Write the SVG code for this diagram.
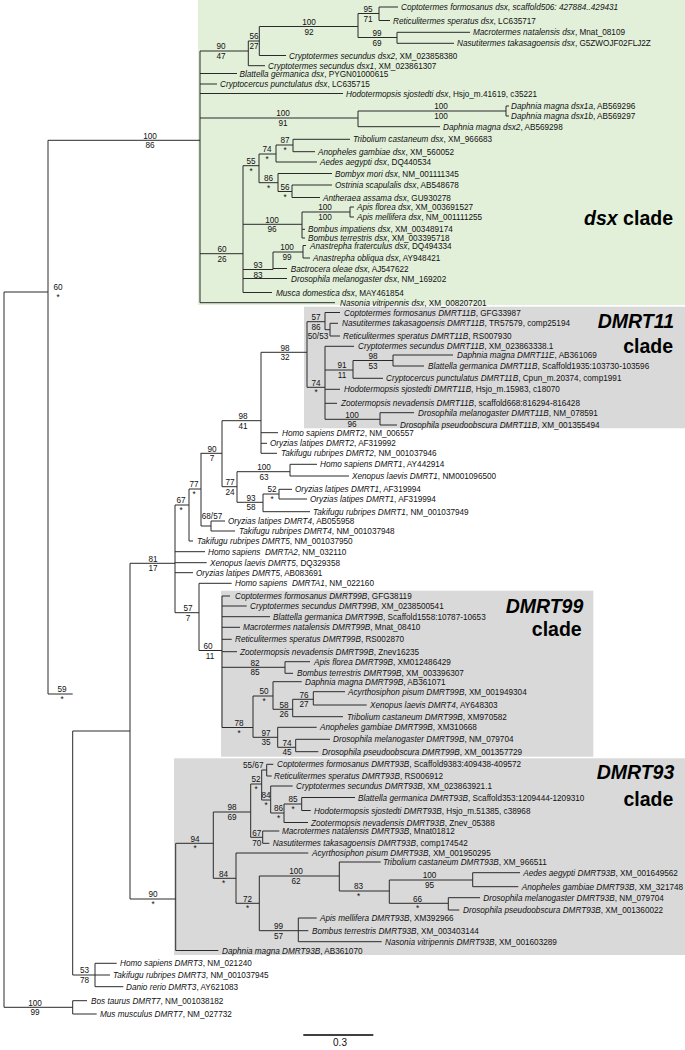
<svg xmlns="http://www.w3.org/2000/svg" width="685" height="1050" viewBox="0 0 685 1050">
<style>
text{font-family:"Liberation Sans",Arial,Helvetica,sans-serif;font-size:8.2px;fill:#111}
.i{font-style:italic}
.s{text-anchor:middle}
.b{fill:none;stroke:#2a2a2a;stroke-width:1}
.cl{font-size:19.5px;font-weight:bold;text-anchor:end;fill:#000}
</style>
<rect id="box-dsx" x="198" y="0" width="487" height="305" fill="#e2efd9"/>
<rect id="box-dmrt11" x="304" y="306.7" width="381" height="121.6" fill="#d9d9d9"/>
<rect id="box-dmrt99" x="221" y="590.7" width="372.3" height="166" fill="#d9d9d9"/>
<rect id="box-dmrt93" x="174" y="758.3" width="511" height="196.7" fill="#d9d9d9"/>
<g id="clade-labels">
<text class="cl" x="673" y="225"><tspan class="i">dsx</tspan> clade</text>
<text class="cl i" x="674" y="328.3">DMRT11</text>
<text class="cl" x="673" y="352.7">clade</text>
<text class="cl i" x="583.3" y="612.7">DMRT99</text>
<text class="cl" x="581.7" y="635.7">clade</text>
<text class="cl i" x="674.3" y="779.3">DMRT93</text>
<text class="cl" x="673.3" y="805.7">clade</text>
</g>
<g id="connectors" class="b">
<path d="M4 292V1007.3M4 292H48M48 140.3V694M48 140.3H200M48 694H72.7M72.7 731V975M72.7 731H130M130 563.3V899M4 1007.3H72.7"/>
<path d="M200 51V302.7M200 51H248.3M248.3 41V65.7M248.3 41H259.3M259.3 26.5V55.5M259.3 26.5H358M358 13.5V37.5M358 13.5H379M379 7V20.5M379 7H398M379 20.5H390M358 37.5H397M397 32.3V43.3M397 32.3H470M397 43.3H454M259.3 55.5H286M248.3 65.7H265"/>
<path d="M200 73.5H237M200 84H217M200 93.5H343M200 118H358M358 111V126.7M358 111H506M506 106V116M506 106H509M506 116H509M358 126.7H440M200 302.7H335"/>
<path d="M200 253.7H243M243 165.7V292.5M243 165.7H259M259 154V182.7M259 154H276M276 145V162M276 145H293M293 139.3V151.7M293 139.3H350M293 151.7H315M276 162H317M259 182.7H278M278 173.5V191.5M278 173.5H332M278 191.5H292M292 185V197.5M292 185H332M292 197.5H320"/>
<path d="M243 224.3H302M302 212V238M302 212H350M350 207V217M350 207H354M350 217H354M302 229.3H305M302 238H305M243 269.5H273M273 252V269.5M273 252H303M303 245.5V258M303 245.5H306M303 258H310M273 268.5H287M243 278.5H287M243 292.5H272"/>
<path d="M222 420.7H261M261 352.3V453.3M261 352.3H307M307 321.7V387.3M307 321.7H325M325 312.5V329.7M325 312.5H340M325 329.7H330M330 323.3V336M330 323.3H338M330 336H340M307 387.3H325M325 346.3V419.3M325 346.3H354M325 370H353M353 360.5V378.3M353 360.5H393M393 355V366M393 355H453M393 366H424M353 378.3H383M325 389.3H340M325 403.3H337M325 419.3H380M380 412.7V425M380 412.7H414M380 425H397"/>
<path d="M261 432.7H278M261 443.3H267M261 453.3H277M200.7 453.3H222M222 420.7V486.7M222 486.7H237M237 471.7V502.3M237 471.7H290M290 464.3V476M290 464.3H317M290 476H349M237 502.3H263M263 494V511.7M263 494H279M279 489.3V499M279 489.3H292M279 499H307M263 511.7H310"/>
<path d="M189 489H201M201 453.3V526M201 526H211M211 521V531M211 521H225M211 531H235M175 505H189M189 489V541M189 541H193M130 563.3H175M175 505V612.7M175 551.7H205M175 562.7H206.7M175 572.7H193M175 612.7H199M199 583.3V650.5M199 583.3H231.7M199 650.5H222"/>
<path d="M222 596V727.5M222 596H230M222 606H246.7M222 616.7H270M222 627.3H240M222 639.3H231.7M222 651.7H237M222 667.3H285M285 661.7V673.3M285 661.7H310M285 673.3H293M222 727.5H253M253 696V737.3M253 696H273M273 681.7V709.3M273 681.7H301.7M273 709.3H292.7M292.7 699.3V716.7M292.7 699.3H313.3M313.3 691.7V705M313.3 691.7H345M313.3 705H366.7M292.7 716.7H343M253 737.3H277.7M277.7 727.3V747.3M277.7 727.3H316.7M277.7 747.3H295.7M295.7 739.3V751.7M295.7 739.3H330M295.7 751.7H318.3"/>
<path d="M130 899H175.7M175.7 843.3V950.5M175.7 843.3H213.3M213.3 812V878.3M213.3 812H250.7M250.7 784V837.3M250.7 784H261.7M261.7 770V800M261.7 770H266.7M266.7 764.3V776M266.7 764.3H273.3M266.7 776H271.7M261.7 800H270.7M270.7 786V813M270.7 786H292.7M270.7 813H284M284 804V822.5M284 804H301.7M301.7 797.5V810.5M301.7 797.5H355M301.7 810.5H310.7M284 822.5H308M250.7 837.3H262.7M262.7 831V843.3M262.7 831H279.3M262.7 843.3H269.3"/>
<path d="M213.3 878.3H236M236 853V903.3M236 853H308.3M236 903.3H259.3M259.3 876V930.7M259.3 876H339.3M339.3 862V891M339.3 862H380.7M339.3 891H389.3M389.3 880V903.3M389.3 880H472.7M472.7 872.7V886.7M472.7 872.7H520M472.7 886.7H518.3M389.3 903.3H448.3M448.3 897.7V910M448.3 897.7H480M448.3 910H459.3M259.3 930.7H298.3M298.3 918V941.7M298.3 918H316.7M298.3 930.7H308.3M298.3 941.7H381.7M175.7 950.5H218.3"/>
<path d="M72.7 975H95M95 963.3V986.7M95 963.3H116.7M95 975H110M95 986.7H123.3M72.7 1000.7V1014M72.7 1000.7H87M72.7 1014H96.7"/>
</g>
<g id="support">
<g id="s-root60"><text class="s" x="58" y="290.3">60</text><text class="s" x="58" y="300">*</text></g>
<g id="s-59"><text class="s" x="62" y="692.3">59</text><text class="s" x="62" y="702">*</text></g>
<g id="s-dsx"><text class="s" x="150" y="138.6">100</text><text class="s" x="150" y="148.3">86</text></g>
<g id="s-90-47"><text class="s" x="221" y="49.3">90</text><text class="s" x="221" y="59">47</text></g>
<g id="s-56-27"><text class="s" x="254" y="39.3">56</text><text class="s" x="254" y="49">27</text></g>
<g id="s-100-92"><text class="s" x="309" y="24.8">100</text><text class="s" x="309" y="34.5">92</text></g>
<g id="s-95-71"><text class="s" x="368" y="11.8">95</text><text class="s" x="368" y="21.5">71</text></g>
<g id="s-99-69"><text class="s" x="377" y="35.8">99</text><text class="s" x="377" y="45.5">69</text></g>
<g id="s-100-91"><text class="s" x="283" y="116.3">100</text><text class="s" x="283" y="126">91</text></g>
<g id="s-100-100a"><text class="s" x="441" y="109.3">100</text><text class="s" x="441" y="119">100</text></g>
<g id="s-60-26"><text class="s" x="222" y="252">60</text><text class="s" x="222" y="261.7">26</text></g>
<g id="s-55"><text class="s" x="251" y="164">55</text><text class="s" x="251" y="173.7">*</text></g>
<g id="s-74a"><text class="s" x="267" y="152.3">74</text><text class="s" x="267" y="162">*</text></g>
<g id="s-87"><text class="s" x="285" y="143.3">87</text><text class="s" x="285" y="153">*</text></g>
<g id="s-86a"><text class="s" x="268.5" y="181">86</text><text class="s" x="268.5" y="190.7">*</text></g>
<g id="s-56b"><text class="s" x="285" y="189.8">56</text><text class="s" x="285" y="199.5">*</text></g>
<g id="s-100-96a"><text class="s" x="272" y="222.6">100</text><text class="s" x="272" y="232.3">96</text></g>
<g id="s-100-100b"><text class="s" x="325" y="210.3">100</text><text class="s" x="325" y="220">100</text></g>
<g id="s-100-99a"><text class="s" x="287" y="250.3">100</text><text class="s" x="287" y="260">99</text></g>
<g id="s-93-83"><text class="s" x="258" y="267.8">93</text><text class="s" x="258" y="277.5">83</text></g>
<g id="s-98-32"><text class="s" x="285" y="350.6">98</text><text class="s" x="285" y="360.3">32</text></g>
<g id="s-57-86"><text class="s" x="316" y="320">57</text><text class="s" x="316" y="329.5">86</text></g>
<g id="s-50-53"><text class="s" x="318" y="338.5">50/53</text></g>
<g id="s-74b"><text class="s" x="316" y="385.6">74</text><text class="s" x="316" y="395.3">*</text></g>
<g id="s-91-11"><text class="s" x="342" y="368.3">91</text><text class="s" x="342" y="378">11</text></g>
<g id="s-98-53"><text class="s" x="373" y="358.8">98</text><text class="s" x="373" y="368.5">53</text></g>
<g id="s-100-96b"><text class="s" x="352" y="417.6">100</text><text class="s" x="352" y="427.3">96</text></g>
<g id="s-98-41"><text class="s" x="243" y="419">98</text><text class="s" x="243" y="428.7">41</text></g>
<g id="s-90-7"><text class="s" x="212" y="451.6">90</text><text class="s" x="212" y="461.3">7</text></g>
<g id="s-77-24"><text class="s" x="230" y="485">77</text><text class="s" x="230" y="494.7">24</text></g>
<g id="s-100-63"><text class="s" x="264" y="470">100</text><text class="s" x="264" y="479.7">63</text></g>
<g id="s-93-58"><text class="s" x="251" y="500.6">93</text><text class="s" x="251" y="510.3">58</text></g>
<g id="s-52a"><text class="s" x="272" y="492.3">52</text><text class="s" x="272" y="502">*</text></g>
<g id="s-77"><text class="s" x="194" y="487.3">77</text><text class="s" x="194" y="497">*</text></g>
<g id="s-68-57"><text class="s" x="212" y="519.3">68/57</text></g>
<g id="s-67"><text class="s" x="181" y="503.3">67</text><text class="s" x="181" y="513">*</text></g>
<g id="s-81-17"><text class="s" x="153" y="561.6">81</text><text class="s" x="153" y="571.3">17</text></g>
<g id="s-57-7"><text class="s" x="188" y="611">57</text><text class="s" x="188" y="620.7">7</text></g>
<g id="s-60-11"><text class="s" x="208" y="648.8">60</text><text class="s" x="210" y="658.5">11</text></g>
<g id="s-82-85"><text class="s" x="255" y="665.6">82</text><text class="s" x="255" y="675.3">85</text></g>
<g id="s-78"><text class="s" x="239" y="725.8">78</text><text class="s" x="239" y="735.5">*</text></g>
<g id="s-50"><text class="s" x="264" y="694.3">50</text><text class="s" x="264" y="704">*</text></g>
<g id="s-58-26"><text class="s" x="284" y="707.6">58</text><text class="s" x="284" y="717.3">26</text></g>
<g id="s-76-27"><text class="s" x="304" y="697.6">76</text><text class="s" x="304" y="707.3">27</text></g>
<g id="s-97-35"><text class="s" x="266" y="735.6">97</text><text class="s" x="266" y="745.3">35</text></g>
<g id="s-74-45"><text class="s" x="287" y="745.6">74</text><text class="s" x="287" y="755.3">45</text></g>
<g id="s-90"><text class="s" x="153" y="897.3">90</text><text class="s" x="153" y="907">*</text></g>
<g id="s-94"><text class="s" x="195" y="841.6">94</text><text class="s" x="195" y="851.3">*</text></g>
<g id="s-98-69"><text class="s" x="232" y="810.3">98</text><text class="s" x="232" y="820">69</text></g>
<g id="s-52b"><text class="s" x="256" y="782.3">52</text><text class="s" x="256" y="792">*</text></g>
<g id="s-55-67"><text class="s" x="253.3" y="767.8">55/67</text></g>
<g id="s-84a"><text class="s" x="266" y="798.3">84</text><text class="s" x="266" y="808">*</text></g>
<g id="s-86b"><text class="s" x="278.5" y="811.3">86</text><text class="s" x="278.5" y="821">*</text></g>
<g id="s-85"><text class="s" x="293" y="802.3">85</text><text class="s" x="293" y="812">*</text></g>
<g id="s-67-70"><text class="s" x="256.7" y="835.6">67</text><text class="s" x="256.7" y="846">70</text></g>
<g id="s-84b"><text class="s" x="223.5" y="876.6">84</text><text class="s" x="223.5" y="886.3">*</text></g>
<g id="s-72"><text class="s" x="247.5" y="901.6">72</text><text class="s" x="247.5" y="911.3">*</text></g>
<g id="s-100-62"><text class="s" x="296" y="874.3">100</text><text class="s" x="296" y="884">62</text></g>
<g id="s-83"><text class="s" x="358.5" y="889.3">83</text><text class="s" x="358.5" y="899">*</text></g>
<g id="s-100-95"><text class="s" x="429.5" y="878.3">100</text><text class="s" x="429.5" y="888">95</text></g>
<g id="s-66"><text class="s" x="417.5" y="901.6">66</text><text class="s" x="417.5" y="911.3">*</text></g>
<g id="s-99-57"><text class="s" x="278.5" y="929">99</text><text class="s" x="278.5" y="938.7">57</text></g>
<g id="s-53-78"><text class="s" x="84.5" y="973.3">53</text><text class="s" x="84.5" y="983">78</text></g>
<g id="s-100-99b"><text class="s" x="35" y="1005.6">100</text><text class="s" x="35" y="1015.3">99</text></g>
</g>
<g id="leaves">
<g id="l01"><text x="401" y="10"><tspan class="i">Coptotermes formosanus dsx, scaffold506: 427884..429431</tspan></text></g>
<g id="l02"><text x="393" y="23.5"><tspan class="i">Reticulitermes speratus dsx</tspan>, LC635717</text></g>
<g id="l03"><text x="473" y="35.3"><tspan class="i">Macrotermes natalensis dsx</tspan>, Mnat_08109</text></g>
<g id="l04"><text x="457" y="46.3"><tspan class="i">Nasutitermes takasagoensis dsx</tspan>, G5ZWOJF02FLJ2Z</text></g>
<g id="l05"><text x="289" y="58.5"><tspan class="i">Cryptotermes secundus dsx2</tspan>, XM_023858380</text></g>
<g id="l06"><text x="268" y="68.7"><tspan class="i">Cryptotermes secundus dsx1</tspan>, XM_023861307</text></g>
<g id="l07"><text x="239.5" y="76.5"><tspan class="i">Blattella germanica dsx</tspan>, PYGN01000615</text></g>
<g id="l08"><text x="220" y="87"><tspan class="i">Cryptocercus punctulatus dsx</tspan>, LC635715</text></g>
<g id="l09"><text x="346" y="96.5"><tspan class="i">Hodotermopsis sjostedti dsx</tspan>, Hsjo_m.41619, c35221</text></g>
<g id="l10"><text x="511" y="109"><tspan class="i">Daphnia magna dsx1a</tspan>, AB569296</text></g>
<g id="l11"><text x="511" y="119"><tspan class="i">Daphnia magna dsx1b</tspan>, AB569297</text></g>
<g id="l12"><text x="443" y="129.7"><tspan class="i">Daphnia magna dsx2</tspan>, AB569298</text></g>
<g id="l13"><text x="353" y="142.3"><tspan class="i">Tribolium castaneum dsx</tspan>, XM_966683</text></g>
<g id="l14"><text x="318" y="154.7"><tspan class="i">Anopheles gambiae dsx</tspan>, XM_560052</text></g>
<g id="l15"><text x="320" y="165"><tspan class="i">Aedes aegypti dsx</tspan>, DQ440534</text></g>
<g id="l16"><text x="335" y="176.5"><tspan class="i">Bombyx mori dsx</tspan>, NM_001111345</text></g>
<g id="l17"><text x="335" y="188"><tspan class="i">Ostrinia scapulalis dsx</tspan>, AB548678</text></g>
<g id="l18"><text x="323" y="200.5"><tspan class="i">Antheraea assama dsx</tspan>, GU930278</text></g>
<g id="l19"><text x="357" y="210"><tspan class="i">Apis florea dsx</tspan>, XM_003691527</text></g>
<g id="l20"><text x="357" y="220"><tspan class="i">Apis mellifera dsx</tspan>, NM_001111255</text></g>
<g id="l21"><text x="308" y="232.3"><tspan class="i">Bombus impatiens dsx</tspan>, XM_003489174</text></g>
<g id="l22"><text x="308" y="241"><tspan class="i">Bombus terrestris dsx</tspan>, XM_003395718</text></g>
<g id="l23"><text x="310" y="248.5"><tspan class="i">Anastrepha fraterculus dsx</tspan>, DQ494334</text></g>
<g id="l24"><text x="313" y="261"><tspan class="i">Anastrepha obliqua dsx</tspan>, AY948421</text></g>
<g id="l25"><text x="290.7" y="271.5"><tspan class="i">Bactrocera oleae dsx</tspan>, AJ547622</text></g>
<g id="l26"><text x="291" y="281.5"><tspan class="i">Drosophila melanogaster dsx</tspan>, NM_169202</text></g>
<g id="l27"><text x="276" y="295.5"><tspan class="i">Musca domestica dsx</tspan>, MAY461854</text></g>
<g id="l28"><text x="340" y="305.7"><tspan class="i">Nasonia vitripennis dsx</tspan>, XM_008207201</text></g>
<g id="l29"><text x="344" y="315.5"><tspan class="i">Coptotermes formosanus DMRT11B</tspan>, GFG33987</text></g>
<g id="l30"><text x="342" y="326.3"><tspan class="i">Nasutitermes takasagoensis DMRT11B</tspan>, TR57579, comp25194</text></g>
<g id="l31"><text x="343" y="339"><tspan class="i">Reticulitermes speratus DMRT11B</tspan>, RS007930</text></g>
<g id="l32"><text x="358" y="349.3"><tspan class="i">Cryptotermes secundus DMRT11B</tspan>, XM_023863338.1</text></g>
<g id="l33"><text x="457" y="358"><tspan class="i">Daphnia magna DMRT11E</tspan>, AB361069</text></g>
<g id="l34"><text x="428" y="369"><tspan class="i">Blattella germanica DMRT11B</tspan>, Scaffold1935:103730-103596</text></g>
<g id="l35"><text x="386" y="381.3"><tspan class="i">Cryptocercus punctulatus DMRT11B</tspan>, Cpun_m.20374, comp1991</text></g>
<g id="l36"><text x="344" y="392.3"><tspan class="i">Hodotermopsis sjostedti DMRT11B</tspan>, Hsjo_m.15983, c18070</text></g>
<g id="l37"><text x="341" y="406.3"><tspan class="i">Zootermopsis nevadensis DMRT11B</tspan>, scaffold668:816294-816428</text></g>
<g id="l38"><text x="418" y="415.7"><tspan class="i">Drosophila melanogaster DMRT11B</tspan>, NM_078591</text></g>
<g id="l39"><text x="400" y="428"><tspan class="i">Drosophila pseudoobscura DMRT11B</tspan>, XM_001355494</text></g>
<g id="l40"><text x="282" y="435.7"><tspan class="i">Homo sapiens DMRT2</tspan>, NM_006557</text></g>
<g id="l41"><text x="270" y="446.3"><tspan class="i">Oryzias latipes DMRT2</tspan>, AF319992</text></g>
<g id="l42"><text x="281" y="456.3"><tspan class="i">Takifugu rubripes DMRT2</tspan>, NM_001037946</text></g>
<g id="l43"><text x="320" y="467.3"><tspan class="i">Homo sapiens DMRT1</tspan>, AY442914</text></g>
<g id="l44"><text x="352" y="479"><tspan class="i">Xenopus laevis DMRT1</tspan>, NM001096500</text></g>
<g id="l45"><text x="295" y="492.3"><tspan class="i">Oryzias latipes DMRT1</tspan>, AF319994</text></g>
<g id="l46"><text x="310" y="502"><tspan class="i">Oryzias latipes DMRT1</tspan>, AF319994</text></g>
<g id="l47"><text x="313" y="514.7"><tspan class="i">Takifugu rubripes DMRT1</tspan>, NM_001037949</text></g>
<g id="l48"><text x="228" y="524"><tspan class="i">Oryzias latipes DMRT4</tspan>, AB055958</text></g>
<g id="l49"><text x="239" y="534"><tspan class="i">Takifugu rubripes DMRT4</tspan>, NM_001037948</text></g>
<g id="l50"><text x="197" y="544"><tspan class="i">Takifugu rubripes DMRT5</tspan>, NM_001037950</text></g>
<g id="l51"><text x="208" y="554.7"><tspan class="i">Homo sapiens&#160; DMRTA2</tspan>, NM_032110</text></g>
<g id="l52"><text x="210" y="565.7"><tspan class="i">Xenopus laevis DMRT5</tspan>, DQ329358</text></g>
<g id="l53"><text x="196" y="575.7"><tspan class="i">Oryzias latipes DMRT5</tspan>, AB083691</text></g>
<g id="l54"><text x="235" y="586.3"><tspan class="i">Homo sapiens&#160; DMRTA1</tspan>, NM_022160</text></g>
<g id="l55"><text x="235" y="599"><tspan class="i">Coptotermes formosanus DMRT99B</tspan>, GFG38119</text></g>
<g id="l56"><text x="250" y="609"><tspan class="i">Cryptotermes secundus DMRT99B</tspan>, XM_0238500541</text></g>
<g id="l57"><text x="273" y="619.7"><tspan class="i">Blattella germanica DMRT99B</tspan>, Scaffold1558:10787-10653</text></g>
<g id="l58"><text x="243" y="630.3"><tspan class="i">Macrotermes natalensis DMRT99B</tspan>, Mnat_08410</text></g>
<g id="l59"><text x="235" y="642.3"><tspan class="i">Reticulitermes speratus DMRT99B</tspan>, RS002870</text></g>
<g id="l60"><text x="240" y="654.7"><tspan class="i">Zootermopsis nevadensis DMRT99B</tspan>, Znev16235</text></g>
<g id="l61"><text x="314" y="664.7"><tspan class="i">Apis florea DMRT99B</tspan>, XM012486429</text></g>
<g id="l62"><text x="297" y="676.3"><tspan class="i">Bombus terrestris DMRT99B</tspan>, XM_003396307</text></g>
<g id="l63"><text x="305" y="684.7"><tspan class="i">Daphnia magna DMRT99B</tspan>, AB361071</text></g>
<g id="l64"><text x="348" y="694.7"><tspan class="i">Acyrthosiphon pisum DMRT99B</tspan>, XM_001949304</text></g>
<g id="l65"><text x="370" y="708"><tspan class="i">Xenopus laevis DMRT4</tspan>, AY648303</text></g>
<g id="l66"><text x="347" y="719.7"><tspan class="i">Tribolium castaneum DMRT99B</tspan>, XM970582</text></g>
<g id="l67"><text x="320" y="730.3"><tspan class="i">Anopheles gambiae DMRT99B</tspan>, XM310668</text></g>
<g id="l68"><text x="333" y="742.3"><tspan class="i">Drosophila melanogaster DMRT99B</tspan>, NM_079704</text></g>
<g id="l69"><text x="322" y="754.7"><tspan class="i">Drosophila pseudoobscura DMRT99B</tspan>, XM_001357729</text></g>
<g id="l70"><text x="277" y="767.3"><tspan class="i">Coptotermes formosanus DMRT93B</tspan>, Scaffold9383:409438-409572</text></g>
<g id="l71"><text x="274" y="779"><tspan class="i">Reticulitermes speratus DMRT93B</tspan>, RS006912</text></g>
<g id="l72"><text x="296" y="789"><tspan class="i">Cryptotermes secundus DMRT93B</tspan>, XM_023863921.1</text></g>
<g id="l73"><text x="358" y="800.5"><tspan class="i">Blattella germanica DMRT93B</tspan>, Scaffold353:1209444-1209310</text></g>
<g id="l74"><text x="314" y="813.5"><tspan class="i">Hodotermopsis sjostedti DMRT93B</tspan>, Hsjo_m.51385, c38968</text></g>
<g id="l75"><text x="311" y="825.5"><tspan class="i">Zootermopsis nevadensis DMRT93B</tspan>, Znev_05388</text></g>
<g id="l76"><text x="282" y="834"><tspan class="i">Macrotermes natalensis DMRT93B</tspan>, Mnat01812</text></g>
<g id="l77"><text x="272.7" y="846.3"><tspan class="i">Nasutitermes takasagoensis DMRT93B</tspan>, comp174542</text></g>
<g id="l78"><text x="312" y="856"><tspan class="i">Acyrthosiphon pisum DMRT93B</tspan>, XM_001950295</text></g>
<g id="l79"><text x="383" y="865"><tspan class="i">Tribolium castaneum DMRT93B</tspan>, XM_966511</text></g>
<g id="l80"><text x="523.3" y="875.7"><tspan class="i">Aedes aegypti DMRT93B</tspan>, XM_001649562</text></g>
<g id="l81"><text x="521.7" y="889.7"><tspan class="i">Anopheles gambiae DMRT93B</tspan>, XM_321748</text></g>
<g id="l82"><text x="483.3" y="900.7"><tspan class="i">Drosophila melanogaster DMRT93B</tspan>, NM_079704</text></g>
<g id="l83"><text x="463" y="913"><tspan class="i">Drosophila pseudoobscura DMRT93B</tspan>, XM_001360022</text></g>
<g id="l84"><text x="320" y="921"><tspan class="i">Apis mellifera DMRT93B</tspan>, XM392966</text></g>
<g id="l85"><text x="312" y="933.7"><tspan class="i">Bombus terrestris DMRT93B</tspan>, XM_003403144</text></g>
<g id="l86"><text x="385" y="944.7"><tspan class="i">Nasonia vitripennis DMRT93B</tspan>, XM_001603289</text></g>
<g id="l87"><text x="222" y="953.5"><tspan class="i">Daphnia magna DMRT93B</tspan>, AB361070</text></g>
<g id="l88"><text x="120" y="966.3"><tspan class="i">Homo sapiens DMRT3</tspan>, NM_021240</text></g>
<g id="l89"><text x="113" y="978"><tspan class="i">Takifugu rubripes DMRT3</tspan>, NM_001037945</text></g>
<g id="l90"><text x="126" y="989.7"><tspan class="i">Danio rerio DMRT3</tspan>, AY621083</text></g>
<g id="l91"><text x="91" y="1003.7"><tspan class="i">Bos taurus DMRT7</tspan>, NM_001038182</text></g>
<g id="l92"><text x="100" y="1017"><tspan class="i">Mus musculus DMRT7</tspan>, NM_027732</text></g>
</g>
<g id="scale-bar">
<path d="M303.3 1035H373.3" stroke="#000" stroke-width="1.5" fill="none"/>
<text x="340" y="1046" text-anchor="middle" style="font-size:10px">0.3</text>
</g>
</svg>
